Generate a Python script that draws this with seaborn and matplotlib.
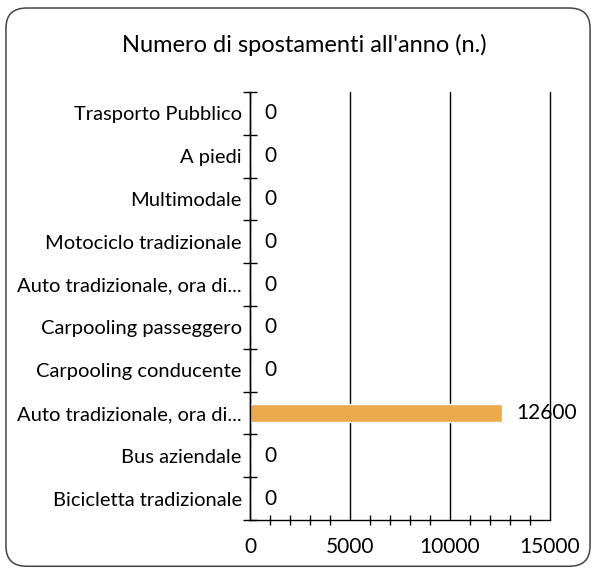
import numpy as np
import pandas as pd
import matplotlib.pyplot as plt
from matplotlib.patches import FancyBboxPatch
from matplotlib.ticker import MultipleLocator
import seaborn as sns

# categories top to bottom, as in the chart
categorie = ["Trasporto Pubblico", "A piedi", "Multimodale", "Motociclo tradizionale",
             "Auto tradizionale, ora di...", "Carpooling passeggero", "Carpooling conducente",
             "Auto tradizionale, ora di... ", "Bus aziendale", "Bicicletta tradizionale"]
spostamenti = [0, 0, 0, 0, 0, 0, 0, 12600, 0, 0]
etichette = ["Trasporto Pubblico", "A piedi", "Multimodale", "Motociclo tradizionale",
             "Auto tradizionale, ora di...", "Carpooling passeggero", "Carpooling conducente",
             "Auto tradizionale, ora di...", "Bus aziendale", "Bicicletta tradizionale"]
titolo = "Numero di spostamenti all'anno (n.)"

df = pd.DataFrame({"cat": categorie, "val": spostamenti})

sns.set_style("white")
plt.rcParams['font.family'] = ['Lato', 'DejaVu Sans']

fig = plt.figure(figsize=(5.96, 5.72), dpi=100)
ax = fig.add_axes([0.4195, 0.0909, 0.5034, 0.7483])

sns.barplot(data=df, x="val", y="cat", orient="h", color="#EBAA4B",
            saturation=1, width=0.4, ax=ax)

ax.set_xlim(0, 15000)
ax.set_ylim(len(categorie) - 0.5, -0.5)
ax.set_xticks([0, 5000, 10000, 15000])
ax.xaxis.set_minor_locator(MultipleLocator(1000))
ax.grid(axis="x", color="black", linewidth=1)
for gl in ax.get_xgridlines():
    gl.set_clip_on(False)
ax.set_axisbelow(True)

ax.set_yticks(range(len(categorie)))
ax.set_yticklabels(etichette)
ax.set_yticks(np.arange(-0.5, len(categorie)), minor=True)

ax.tick_params(axis="x", which="major", direction="inout", length=10, width=1,
               labelsize=15, pad=7, colors="black")
ax.tick_params(axis="x", which="minor", direction="inout", length=7, width=1,
               colors="black", bottom=True)
ax.tick_params(axis="y", which="major", direction="inout", length=6, width=1,
               labelsize=14.5, pad=3, colors="black")
ax.tick_params(axis="y", which="minor", direction="inout", length=10, width=1,
               colors="black", left=True)

for s in ["top", "right"]:
    ax.spines[s].set_visible(False)
for s in ["left", "bottom"]:
    ax.spines[s].set_color("black")
    ax.spines[s].set_linewidth(1)

ax.set_xlabel("")
ax.set_ylabel("")
ax.bar_label(ax.containers[0], labels=[str(v) for v in spostamenti],
             padding=10, fontsize=15, color="black")

fig.text(0.51, 0.921, titolo, ha="center", va="center", fontsize=17, color="black")

frame = FancyBboxPatch((0.01, 0.01), 0.98, 0.976, boxstyle="round,pad=0,rounding_size=0.035",
                       transform=fig.transFigure, fill=False, edgecolor="#444444", linewidth=1.1)
fig.patches.append(frame)

fig.savefig("out.png", dpi=100)
